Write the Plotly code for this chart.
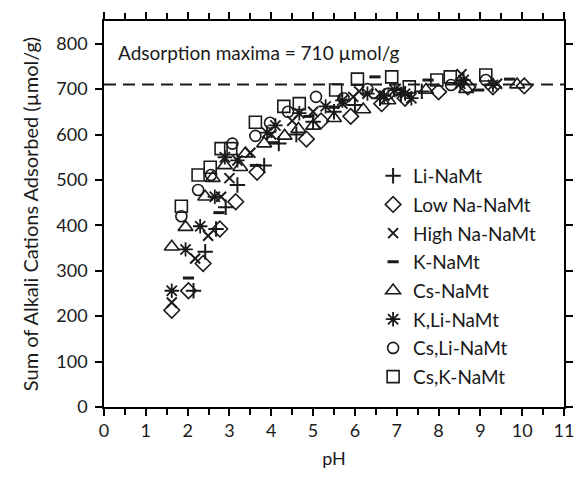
import plotly.graph_objects as go

# ---------------- data ----------------
li_ph  = [2.14, 2.42, 2.68, 2.91, 3.19, 3.83, 4.18, 4.6, 5.0, 5.5, 6.0, 6.6, 7.1, 7.6]
li_val = [256, 342, 392, 440, 489, 532, 580, 600, 628, 650, 665, 680, 688, 695]

lowna_ph  = [1.62, 2.02, 2.37, 2.77, 3.15, 3.66, 4.84, 5.19, 5.9, 6.64, 7.2, 8.0, 8.7, 9.3, 10.05]
lowna_val = [213, 256, 316, 392, 452, 517, 590, 630, 640, 668, 680, 694, 705, 705, 707]

highna_ph  = [1.62, 2.18, 2.49, 2.8, 3.0, 3.5, 4.0, 4.5, 5.0, 5.7, 5.96, 6.1, 6.6, 7.1, 8.55, 9.4]
highna_val = [230, 327, 377, 463, 504, 560, 600, 630, 650, 668, 683, 695, 690, 695, 733, 712]

k_ph  = [2.02, 2.75, 3.62, 4.06, 4.9, 5.5, 6.48, 7.0, 7.75, 8.96, 9.7]
k_val = [284, 428, 532, 582, 640, 660, 727, 700, 720, 698, 722]

cs_ph  = [1.62, 1.95, 2.42, 2.6, 2.89, 3.26, 3.38, 3.83, 4.32, 4.65, 5.0, 5.5, 6.2, 6.8, 7.7, 8.66, 9.88]
cs_val = [353, 396, 463, 504, 532, 528, 558, 580, 597, 612, 619, 636, 655, 675, 698, 700, 710]

kli_ph  = [1.62, 1.95, 2.3, 2.65, 2.89, 3.19, 3.9, 4.1, 4.67, 5.3, 5.7, 6.3, 6.7, 6.95, 7.2, 7.35, 8.52, 8.6, 9.3]
kli_val = [256, 347, 398, 463, 550, 543, 604, 620, 647, 662, 675, 690, 685, 698, 690, 680, 712, 720, 709]

csli_ph  = [1.85, 2.25, 2.56, 3.07, 3.62, 3.97, 4.4, 5.07, 5.73, 6.3, 6.8, 8.3, 9.13]
csli_val = [420, 478, 511, 580, 597, 626, 650, 683, 680, 700, 690, 709, 720]

csk_ph  = [1.85, 2.25, 2.54, 2.8, 3.03, 3.62, 4.3, 4.67, 5.54, 6.06, 6.88, 7.3, 7.96, 8.28, 9.13]
csk_val = [442, 511, 528, 569, 569, 627, 662, 668, 698, 722, 727, 705, 720, 727, 731]

series_names = ["Li-NaMt", "Low Na-NaMt", "High Na-NaMt", "K-NaMt",
                "Cs-NaMt", "K,Li-NaMt", "Cs,Li-NaMt", "Cs,K-NaMt"]

adsorption_max = 710
annotation_text = "Adsorption maxima = 710 \u00b5mol/g"
x_title = "pH"
y_title = "Sum of Alkali Cations Adsorbed (\u00b5mol/g)"
y_ticks = [0, 100, 200, 300, 400, 500, 600, 700, 800]

# ---------------- figure ----------------
FONT = "Lato, 'Liberation Sans', sans-serif"
INK = "#1a1a1a"

styles = [
    dict(symbol="cross-thin-open", size=11, line=dict(width=2, color=INK)),
    dict(symbol="diamond-open", size=12, line=dict(width=1.6, color=INK)),
    dict(symbol="x-thin-open", size=10, line=dict(width=2, color=INK)),
    dict(symbol="line-ew-open", size=8, line=dict(width=3, color=INK)),
    dict(symbol="triangle-up-open", size=13, line=dict(width=1.6, color=INK)),
    dict(symbol="asterisk-open", size=12, line=dict(width=1.8, color=INK)),
    dict(symbol="circle-open", size=11, line=dict(width=1.6, color=INK)),
    dict(symbol="square-open", size=12, line=dict(width=1.6, color=INK)),
]
data = [(li_ph, li_val), (lowna_ph, lowna_val), (highna_ph, highna_val), (k_ph, k_val),
        (cs_ph, cs_val), (kli_ph, kli_val), (csli_ph, csli_val), (csk_ph, csk_val)]

fig = go.Figure()
for name, (xs, ys), st in zip(series_names, data, styles):
    fig.add_trace(go.Scatter(x=xs, y=ys, mode="markers", name=name,
                             legendgroup=name,
                             marker=dict(color=INK, **st)))

XR = [0, 11]
YR = [0, 850]

fig.add_shape(type="line", xref="paper", x0=0, x1=1, yref="y", y0=adsorption_max, y1=adsorption_max,
              line=dict(color=INK, width=2, dash="12px,7px"))

fig.add_annotation(text=annotation_text, xref="paper", yref="paper", x=0.026, y=0.919,
                   xanchor="left", yanchor="middle", showarrow=False,
                   font=dict(family=FONT, size=19, color=INK))

fig.update_layout(
    width=586, height=483,
    margin=dict(l=104, r=13, t=13, b=76),
    paper_bgcolor="white", plot_bgcolor="white",
    font=dict(family=FONT, size=18, color=INK),
    showlegend=True,
    legend=dict(x=0.585, y=0.648, xanchor="left", yanchor="top",
                font=dict(family=FONT, size=19, color=INK),
                bgcolor="rgba(0,0,0,0)", tracegroupgap=1),
    xaxis=dict(range=XR, dtick=1, tick0=0, showgrid=False, zeroline=False,
               showline=True, linecolor="black", linewidth=1.5, mirror="allticks",
               ticks="outside", ticklen=7, tickwidth=2, tickcolor="black",
               minor=dict(dtick=0.5, ticks="outside", ticklen=6, tickwidth=2, tickcolor="black", showgrid=False),
               title=dict(text=x_title, standoff=12, font=dict(size=18))),
    yaxis=dict(range=YR, tickvals=y_ticks, showgrid=False, zeroline=False,
               showline=True, linecolor="black", linewidth=1.5, mirror="allticks",
               ticks="outside", ticklen=7, tickwidth=2, tickcolor="black",
               ticklabelstandoff=4,
               title=dict(text=y_title, standoff=12, font=dict(size=20))),
)

fig.write_html("out.html")
